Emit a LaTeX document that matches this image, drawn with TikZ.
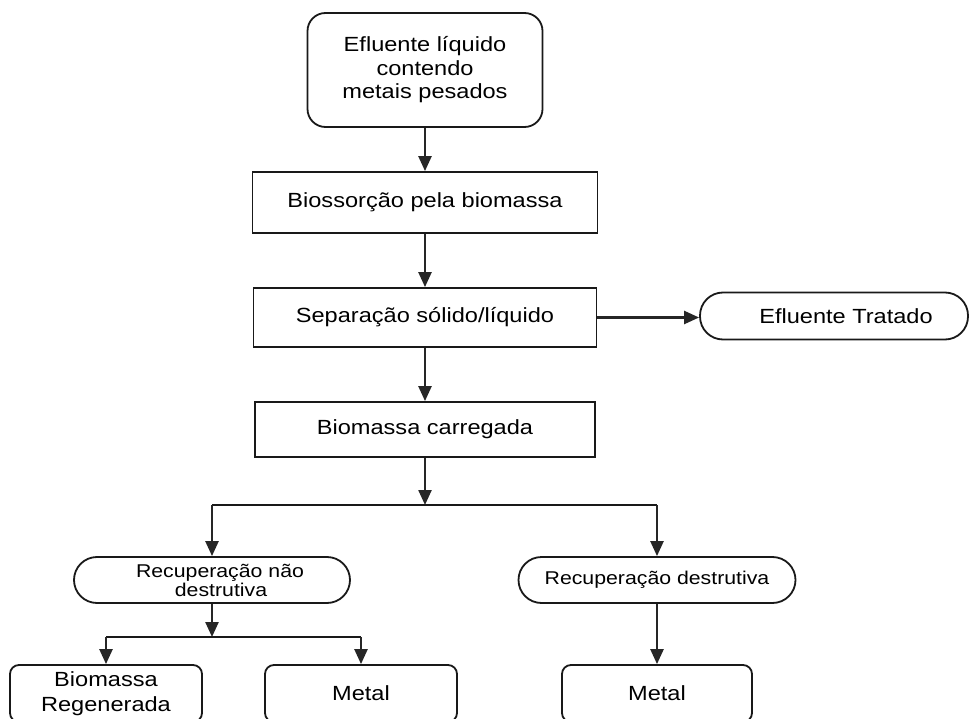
\documentclass[tikz,border=0pt]{standalone}
\usepackage{fontspec}
\setmainfont{Liberation Sans}[FakeStretch=1.15]
\usetikzlibrary{arrows.meta,calc}
\begin{document}
\begin{tikzpicture}[x=1pt,y=-1pt,
  base/.style={draw=black!90, line width=1.8pt, align=center, inner sep=0pt, font=\fontsize{20.5}{23.5}\selectfont},
  sqbox/.style={base},
  capsule/.style={base, rounded corners=23pt},
  endbox/.style={base, rounded corners=9pt, minimum height=57pt},
  arr/.style={line width=2.4pt, black!85, -{Triangle[length=15pt,width=13pt]}},
  ln/.style={line width=2pt, black!90}]
\useasboundingbox (0,0) rectangle (969,719);
\node[base, rounded corners=18pt, minimum width=235pt, minimum height=114pt] (top) at (425,70) {Efluente líquido\\contendo\\metais pesados};
\node[sqbox, minimum width=345pt, minimum height=61pt] (b2) at (425,202.5) {Biossorção pela biomassa};
\node[sqbox, minimum width=343pt, minimum height=59pt] (b3) at (425,317.5) {Separação sólido/líquido};
\node[capsule, minimum width=268pt, minimum height=47pt] (et) at (834,316) {\hspace*{24pt}Efluente Tratado};
\node[sqbox, minimum width=340pt, minimum height=55pt] (b4) at (425,429.5) {Biomassa carregada};
\coordinate (j1) at (425,505);
\node[capsule, minimum width=276pt, minimum height=46pt, font=\fontsize{18.5}{19}\selectfont] (rnd) at (212,580) {\hspace*{16pt}Recuperação não\\\hspace*{18pt}destrutiva};
\node[capsule, minimum width=277pt, minimum height=46pt, font=\fontsize{18.5}{19}\selectfont] (rd) at (657,580) {Recuperação destrutiva};
\coordinate (j2) at (212,637);
\node[endbox, minimum width=192pt, font=\fontsize{20.5}{25}\selectfont] (br) at (106,693.5) {Biomassa\\Regenerada};
\node[endbox, minimum width=192pt] (m1) at (361,693.5) {Metal};
\node[endbox, minimum width=190pt] (m2) at (657,693.5) {Metal};
\draw[arr] (top.south) -- (b2.north);
\draw[arr] (b2.south) -- (b3.north);
\draw[arr] (b3.east) -- (b3.east -| et.west);
\draw[arr] (b3.south) -- (b4.north);
\draw[arr] (b4.south) -- (j1);
\draw[ln] (j1 -| rnd.north) -- (j1 -| rd.north);
\draw[arr] (j1 -| rnd.north) -- (rnd.north);
\draw[arr] (j1 -| rd.north) -- (rd.north);
\draw[arr] (rnd.south) -- (j2);
\draw[ln] (j2 -| br.north) -- (j2 -| m1.north);
\draw[arr] (j2 -| br.north) -- (br.north);
\draw[arr] (j2 -| m1.north) -- (m1.north);
\draw[arr] (rd.south) -- (m2.north);
\end{tikzpicture}
\end{document}
